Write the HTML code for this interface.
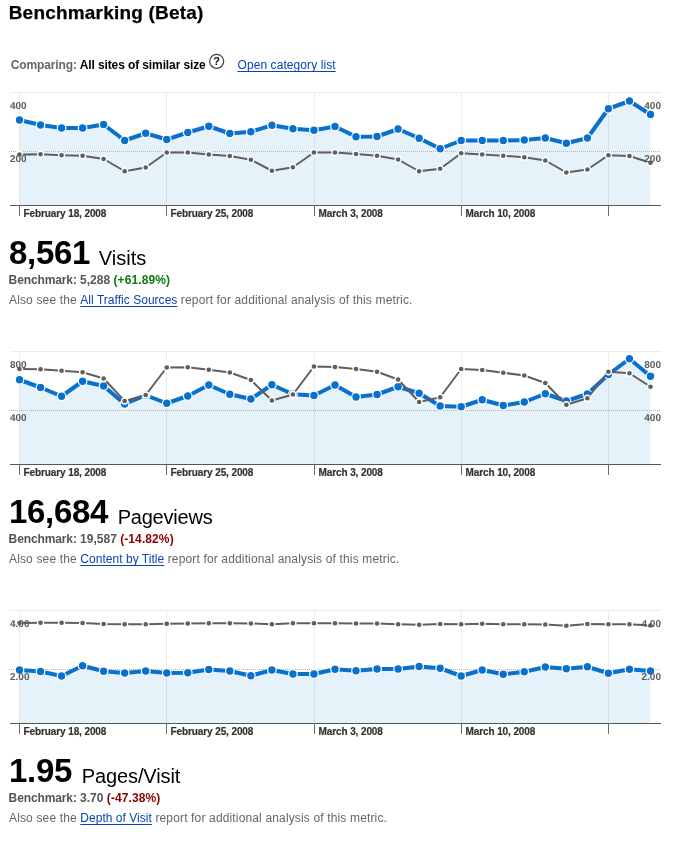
<!DOCTYPE html>
<html><head><meta charset="utf-8"><title>Benchmarking (Beta)</title>
<style>
html,body{margin:0;padding:0;background:#fff;}
body{width:676px;height:843px;position:relative;overflow:hidden;font-family:"Liberation Sans",sans-serif;color:#000;}
.abs{position:absolute;white-space:nowrap;line-height:1;}
h1{margin:0;font-size:19px;font-weight:bold;letter-spacing:0.2px;-webkit-text-stroke:0.25px #000;}
.g{color:#666;}
a{color:#0a44b0;text-decoration:underline;text-underline-offset:1.5px;text-decoration-thickness:1px;}
.big{font-size:33px;font-weight:bold;letter-spacing:-0.3px;}
.met{font-size:20px;}
.bm{font-size:12px;font-weight:bold;color:#555;}
.also{font-size:12px;color:#666;letter-spacing:0.15px;}
.also a{letter-spacing:0.03px;}
.bk{letter-spacing:-0.12px;}
.up{color:#0a7d0a;letter-spacing:0.1px;}
.dn{color:#8b0000;letter-spacing:0.1px;}
svg{position:absolute;left:0;top:0;}
.ax{font:bold 10px "Liberation Sans",sans-serif;fill:#5a5a5a;text-rendering:geometricPrecision;}
.dt{font:bold 10px "Liberation Sans",sans-serif;fill:#333;stroke:#333;stroke-width:0.2px;letter-spacing:-0.1px;}
</style></head><body>
<h1 class="abs" style="left:8.7px;top:3px;">Benchmarking (Beta)</h1>
<div class="abs" style="left:10.7px;top:59px;font-size:12px;font-weight:bold;letter-spacing:-0.11px;"><span class="g">Comparing:</span> All sites of similar size</div>
<div class="abs" style="left:237.5px;top:59px;font-size:12px;letter-spacing:0.08px;"><a>Open category list</a></div>
<svg width="676" height="843" viewBox="0 0 676 843">
<circle cx="216.7" cy="61.3" r="7" fill="#fff" stroke="#444" stroke-width="1.3"/>
<text x="216.7" y="65.3" text-anchor="middle" style="font:bold 11px 'Liberation Sans',sans-serif;fill:#111">?</text>
<rect x="10" y="92" width="651" height="1" fill="#ebebeb"/>
<polygon points="19.50,205 19.50,120.00 40.53,125.00 61.57,128.00 82.60,128.00 103.63,124.50 124.67,140.50 145.70,133.25 166.73,139.50 187.76,132.50 208.80,126.25 229.83,133.50 250.86,131.75 271.90,125.25 292.93,128.75 313.96,130.25 335.00,126.50 356.03,136.75 377.06,136.50 398.09,129.00 419.13,138.25 440.16,148.75 461.19,140.50 482.23,140.50 503.26,140.50 524.29,140.00 545.33,138.00 566.36,143.25 587.39,138.00 608.42,108.75 629.46,101.00 650.49,114.50 650.49,205" fill="#e6f2fa"/>
<rect x="19" y="93" width="1" height="112" fill="#000" fill-opacity="0.075"/>
<rect x="166" y="93" width="1" height="112" fill="#000" fill-opacity="0.075"/>
<rect x="314" y="93" width="1" height="112" fill="#000" fill-opacity="0.075"/>
<rect x="461" y="93" width="1" height="112" fill="#000" fill-opacity="0.075"/>
<rect x="608" y="93" width="1" height="112" fill="#000" fill-opacity="0.075"/>
<line x1="9" y1="151.5" x2="661" y2="151.5" stroke="#b4b4b4" stroke-width="1" stroke-dasharray="1 1"/>
<rect x="10" y="205" width="651" height="1" fill="#555"/>
<rect x="19" y="205" width="1" height="11" fill="#6a6a6a"/>
<rect x="166" y="205" width="1" height="11" fill="#6a6a6a"/>
<rect x="314" y="205" width="1" height="11" fill="#6a6a6a"/>
<rect x="461" y="205" width="1" height="11" fill="#6a6a6a"/>
<rect x="608" y="205" width="1" height="11" fill="#6a6a6a"/>
<polyline points="19.50,120.00 40.53,125.00 61.57,128.00 82.60,128.00 103.63,124.50 124.67,140.50 145.70,133.25 166.73,139.50 187.76,132.50 208.80,126.25 229.83,133.50 250.86,131.75 271.90,125.25 292.93,128.75 313.96,130.25 335.00,126.50 356.03,136.75 377.06,136.50 398.09,129.00 419.13,138.25 440.16,148.75 461.19,140.50 482.23,140.50 503.26,140.50 524.29,140.00 545.33,138.00 566.36,143.25 587.39,138.00 608.42,108.75 629.46,101.00 650.49,114.50" fill="none" stroke="#0a70cd" stroke-width="4" stroke-linejoin="round"/>
<circle cx="19.50" cy="120.00" r="4.3" fill="#0a70cd" stroke="#fff" stroke-width="1.2"/>
<circle cx="40.53" cy="125.00" r="4.3" fill="#0a70cd" stroke="#fff" stroke-width="1.2"/>
<circle cx="61.57" cy="128.00" r="4.3" fill="#0a70cd" stroke="#fff" stroke-width="1.2"/>
<circle cx="82.60" cy="128.00" r="4.3" fill="#0a70cd" stroke="#fff" stroke-width="1.2"/>
<circle cx="103.63" cy="124.50" r="4.3" fill="#0a70cd" stroke="#fff" stroke-width="1.2"/>
<circle cx="124.67" cy="140.50" r="4.3" fill="#0a70cd" stroke="#fff" stroke-width="1.2"/>
<circle cx="145.70" cy="133.25" r="4.3" fill="#0a70cd" stroke="#fff" stroke-width="1.2"/>
<circle cx="166.73" cy="139.50" r="4.3" fill="#0a70cd" stroke="#fff" stroke-width="1.2"/>
<circle cx="187.76" cy="132.50" r="4.3" fill="#0a70cd" stroke="#fff" stroke-width="1.2"/>
<circle cx="208.80" cy="126.25" r="4.3" fill="#0a70cd" stroke="#fff" stroke-width="1.2"/>
<circle cx="229.83" cy="133.50" r="4.3" fill="#0a70cd" stroke="#fff" stroke-width="1.2"/>
<circle cx="250.86" cy="131.75" r="4.3" fill="#0a70cd" stroke="#fff" stroke-width="1.2"/>
<circle cx="271.90" cy="125.25" r="4.3" fill="#0a70cd" stroke="#fff" stroke-width="1.2"/>
<circle cx="292.93" cy="128.75" r="4.3" fill="#0a70cd" stroke="#fff" stroke-width="1.2"/>
<circle cx="313.96" cy="130.25" r="4.3" fill="#0a70cd" stroke="#fff" stroke-width="1.2"/>
<circle cx="335.00" cy="126.50" r="4.3" fill="#0a70cd" stroke="#fff" stroke-width="1.2"/>
<circle cx="356.03" cy="136.75" r="4.3" fill="#0a70cd" stroke="#fff" stroke-width="1.2"/>
<circle cx="377.06" cy="136.50" r="4.3" fill="#0a70cd" stroke="#fff" stroke-width="1.2"/>
<circle cx="398.09" cy="129.00" r="4.3" fill="#0a70cd" stroke="#fff" stroke-width="1.2"/>
<circle cx="419.13" cy="138.25" r="4.3" fill="#0a70cd" stroke="#fff" stroke-width="1.2"/>
<circle cx="440.16" cy="148.75" r="4.3" fill="#0a70cd" stroke="#fff" stroke-width="1.2"/>
<circle cx="461.19" cy="140.50" r="4.3" fill="#0a70cd" stroke="#fff" stroke-width="1.2"/>
<circle cx="482.23" cy="140.50" r="4.3" fill="#0a70cd" stroke="#fff" stroke-width="1.2"/>
<circle cx="503.26" cy="140.50" r="4.3" fill="#0a70cd" stroke="#fff" stroke-width="1.2"/>
<circle cx="524.29" cy="140.00" r="4.3" fill="#0a70cd" stroke="#fff" stroke-width="1.2"/>
<circle cx="545.33" cy="138.00" r="4.3" fill="#0a70cd" stroke="#fff" stroke-width="1.2"/>
<circle cx="566.36" cy="143.25" r="4.3" fill="#0a70cd" stroke="#fff" stroke-width="1.2"/>
<circle cx="587.39" cy="138.00" r="4.3" fill="#0a70cd" stroke="#fff" stroke-width="1.2"/>
<circle cx="608.42" cy="108.75" r="4.3" fill="#0a70cd" stroke="#fff" stroke-width="1.2"/>
<circle cx="629.46" cy="101.00" r="4.3" fill="#0a70cd" stroke="#fff" stroke-width="1.2"/>
<circle cx="650.49" cy="114.50" r="4.3" fill="#0a70cd" stroke="#fff" stroke-width="1.2"/>
<polyline points="19.50,154.50 40.53,154.25 61.57,155.25 82.60,155.75 103.63,159.00 124.67,171.25 145.70,167.50 166.73,152.50 187.76,152.50 208.80,154.50 229.83,156.00 250.86,159.75 271.90,170.75 292.93,167.25 313.96,152.50 335.00,152.50 356.03,154.00 377.06,155.75 398.09,159.50 419.13,171.25 440.16,168.75 461.19,153.25 482.23,154.50 503.26,155.75 524.29,157.25 545.33,160.50 566.36,172.50 587.39,169.50 608.42,155.25 629.46,156.00 650.49,162.75" fill="none" stroke="#5f5f5f" stroke-width="2.0" stroke-linejoin="round"/>
<circle cx="19.50" cy="154.50" r="3.0" fill="#5f5f5f" stroke="#fff" stroke-width="1.3"/>
<circle cx="40.53" cy="154.25" r="3.0" fill="#5f5f5f" stroke="#fff" stroke-width="1.3"/>
<circle cx="61.57" cy="155.25" r="3.0" fill="#5f5f5f" stroke="#fff" stroke-width="1.3"/>
<circle cx="82.60" cy="155.75" r="3.0" fill="#5f5f5f" stroke="#fff" stroke-width="1.3"/>
<circle cx="103.63" cy="159.00" r="3.0" fill="#5f5f5f" stroke="#fff" stroke-width="1.3"/>
<circle cx="124.67" cy="171.25" r="3.0" fill="#5f5f5f" stroke="#fff" stroke-width="1.3"/>
<circle cx="145.70" cy="167.50" r="3.0" fill="#5f5f5f" stroke="#fff" stroke-width="1.3"/>
<circle cx="166.73" cy="152.50" r="3.0" fill="#5f5f5f" stroke="#fff" stroke-width="1.3"/>
<circle cx="187.76" cy="152.50" r="3.0" fill="#5f5f5f" stroke="#fff" stroke-width="1.3"/>
<circle cx="208.80" cy="154.50" r="3.0" fill="#5f5f5f" stroke="#fff" stroke-width="1.3"/>
<circle cx="229.83" cy="156.00" r="3.0" fill="#5f5f5f" stroke="#fff" stroke-width="1.3"/>
<circle cx="250.86" cy="159.75" r="3.0" fill="#5f5f5f" stroke="#fff" stroke-width="1.3"/>
<circle cx="271.90" cy="170.75" r="3.0" fill="#5f5f5f" stroke="#fff" stroke-width="1.3"/>
<circle cx="292.93" cy="167.25" r="3.0" fill="#5f5f5f" stroke="#fff" stroke-width="1.3"/>
<circle cx="313.96" cy="152.50" r="3.0" fill="#5f5f5f" stroke="#fff" stroke-width="1.3"/>
<circle cx="335.00" cy="152.50" r="3.0" fill="#5f5f5f" stroke="#fff" stroke-width="1.3"/>
<circle cx="356.03" cy="154.00" r="3.0" fill="#5f5f5f" stroke="#fff" stroke-width="1.3"/>
<circle cx="377.06" cy="155.75" r="3.0" fill="#5f5f5f" stroke="#fff" stroke-width="1.3"/>
<circle cx="398.09" cy="159.50" r="3.0" fill="#5f5f5f" stroke="#fff" stroke-width="1.3"/>
<circle cx="419.13" cy="171.25" r="3.0" fill="#5f5f5f" stroke="#fff" stroke-width="1.3"/>
<circle cx="440.16" cy="168.75" r="3.0" fill="#5f5f5f" stroke="#fff" stroke-width="1.3"/>
<circle cx="461.19" cy="153.25" r="3.0" fill="#5f5f5f" stroke="#fff" stroke-width="1.3"/>
<circle cx="482.23" cy="154.50" r="3.0" fill="#5f5f5f" stroke="#fff" stroke-width="1.3"/>
<circle cx="503.26" cy="155.75" r="3.0" fill="#5f5f5f" stroke="#fff" stroke-width="1.3"/>
<circle cx="524.29" cy="157.25" r="3.0" fill="#5f5f5f" stroke="#fff" stroke-width="1.3"/>
<circle cx="545.33" cy="160.50" r="3.0" fill="#5f5f5f" stroke="#fff" stroke-width="1.3"/>
<circle cx="566.36" cy="172.50" r="3.0" fill="#5f5f5f" stroke="#fff" stroke-width="1.3"/>
<circle cx="587.39" cy="169.50" r="3.0" fill="#5f5f5f" stroke="#fff" stroke-width="1.3"/>
<circle cx="608.42" cy="155.25" r="3.0" fill="#5f5f5f" stroke="#fff" stroke-width="1.3"/>
<circle cx="629.46" cy="156.00" r="3.0" fill="#5f5f5f" stroke="#fff" stroke-width="1.3"/>
<circle cx="650.49" cy="162.75" r="3.0" fill="#5f5f5f" stroke="#fff" stroke-width="1.3"/>
<text x="10" y="109" class="ax">400</text>
<text x="661" y="109" class="ax" text-anchor="end">400</text>
<text x="10" y="162" class="ax">200</text>
<text x="661" y="162" class="ax" text-anchor="end">200</text>
<text x="23.5" y="217" class="dt">February 18, 2008</text>
<text x="170.5" y="217" class="dt">February 25, 2008</text>
<text x="318.5" y="217" class="dt">March 3, 2008</text>
<text x="465.5" y="217" class="dt">March 10, 2008</text>
<rect x="10" y="351" width="651" height="1" fill="#ebebeb"/>
<polygon points="19.50,464 19.50,379.75 40.53,387.50 61.57,396.25 82.60,381.25 103.63,386.00 124.67,404.00 145.70,395.25 166.73,403.25 187.76,396.00 208.80,385.00 229.83,394.25 250.86,399.00 271.90,384.75 292.93,394.25 313.96,395.50 335.00,385.00 356.03,397.00 377.06,394.50 398.09,386.75 419.13,393.25 440.16,406.00 461.19,406.75 482.23,399.75 503.26,405.50 524.29,402.00 545.33,393.75 566.36,401.00 587.39,394.00 608.42,374.50 629.46,358.75 650.49,376.25 650.49,464" fill="#e6f2fa"/>
<rect x="19" y="352" width="1" height="112" fill="#000" fill-opacity="0.075"/>
<rect x="166" y="352" width="1" height="112" fill="#000" fill-opacity="0.075"/>
<rect x="314" y="352" width="1" height="112" fill="#000" fill-opacity="0.075"/>
<rect x="461" y="352" width="1" height="112" fill="#000" fill-opacity="0.075"/>
<rect x="608" y="352" width="1" height="112" fill="#000" fill-opacity="0.075"/>
<line x1="9" y1="410.5" x2="661" y2="410.5" stroke="#b4b4b4" stroke-width="1" stroke-dasharray="1 1"/>
<rect x="10" y="464" width="651" height="1" fill="#555"/>
<rect x="19" y="464" width="1" height="11" fill="#6a6a6a"/>
<rect x="166" y="464" width="1" height="11" fill="#6a6a6a"/>
<rect x="314" y="464" width="1" height="11" fill="#6a6a6a"/>
<rect x="461" y="464" width="1" height="11" fill="#6a6a6a"/>
<rect x="608" y="464" width="1" height="11" fill="#6a6a6a"/>
<polyline points="19.50,379.75 40.53,387.50 61.57,396.25 82.60,381.25 103.63,386.00 124.67,404.00 145.70,395.25 166.73,403.25 187.76,396.00 208.80,385.00 229.83,394.25 250.86,399.00 271.90,384.75 292.93,394.25 313.96,395.50 335.00,385.00 356.03,397.00 377.06,394.50 398.09,386.75 419.13,393.25 440.16,406.00 461.19,406.75 482.23,399.75 503.26,405.50 524.29,402.00 545.33,393.75 566.36,401.00 587.39,394.00 608.42,374.50 629.46,358.75 650.49,376.25" fill="none" stroke="#0a70cd" stroke-width="4" stroke-linejoin="round"/>
<circle cx="19.50" cy="379.75" r="4.3" fill="#0a70cd" stroke="#fff" stroke-width="1.2"/>
<circle cx="40.53" cy="387.50" r="4.3" fill="#0a70cd" stroke="#fff" stroke-width="1.2"/>
<circle cx="61.57" cy="396.25" r="4.3" fill="#0a70cd" stroke="#fff" stroke-width="1.2"/>
<circle cx="82.60" cy="381.25" r="4.3" fill="#0a70cd" stroke="#fff" stroke-width="1.2"/>
<circle cx="103.63" cy="386.00" r="4.3" fill="#0a70cd" stroke="#fff" stroke-width="1.2"/>
<circle cx="124.67" cy="404.00" r="4.3" fill="#0a70cd" stroke="#fff" stroke-width="1.2"/>
<circle cx="145.70" cy="395.25" r="4.3" fill="#0a70cd" stroke="#fff" stroke-width="1.2"/>
<circle cx="166.73" cy="403.25" r="4.3" fill="#0a70cd" stroke="#fff" stroke-width="1.2"/>
<circle cx="187.76" cy="396.00" r="4.3" fill="#0a70cd" stroke="#fff" stroke-width="1.2"/>
<circle cx="208.80" cy="385.00" r="4.3" fill="#0a70cd" stroke="#fff" stroke-width="1.2"/>
<circle cx="229.83" cy="394.25" r="4.3" fill="#0a70cd" stroke="#fff" stroke-width="1.2"/>
<circle cx="250.86" cy="399.00" r="4.3" fill="#0a70cd" stroke="#fff" stroke-width="1.2"/>
<circle cx="271.90" cy="384.75" r="4.3" fill="#0a70cd" stroke="#fff" stroke-width="1.2"/>
<circle cx="292.93" cy="394.25" r="4.3" fill="#0a70cd" stroke="#fff" stroke-width="1.2"/>
<circle cx="313.96" cy="395.50" r="4.3" fill="#0a70cd" stroke="#fff" stroke-width="1.2"/>
<circle cx="335.00" cy="385.00" r="4.3" fill="#0a70cd" stroke="#fff" stroke-width="1.2"/>
<circle cx="356.03" cy="397.00" r="4.3" fill="#0a70cd" stroke="#fff" stroke-width="1.2"/>
<circle cx="377.06" cy="394.50" r="4.3" fill="#0a70cd" stroke="#fff" stroke-width="1.2"/>
<circle cx="398.09" cy="386.75" r="4.3" fill="#0a70cd" stroke="#fff" stroke-width="1.2"/>
<circle cx="419.13" cy="393.25" r="4.3" fill="#0a70cd" stroke="#fff" stroke-width="1.2"/>
<circle cx="440.16" cy="406.00" r="4.3" fill="#0a70cd" stroke="#fff" stroke-width="1.2"/>
<circle cx="461.19" cy="406.75" r="4.3" fill="#0a70cd" stroke="#fff" stroke-width="1.2"/>
<circle cx="482.23" cy="399.75" r="4.3" fill="#0a70cd" stroke="#fff" stroke-width="1.2"/>
<circle cx="503.26" cy="405.50" r="4.3" fill="#0a70cd" stroke="#fff" stroke-width="1.2"/>
<circle cx="524.29" cy="402.00" r="4.3" fill="#0a70cd" stroke="#fff" stroke-width="1.2"/>
<circle cx="545.33" cy="393.75" r="4.3" fill="#0a70cd" stroke="#fff" stroke-width="1.2"/>
<circle cx="566.36" cy="401.00" r="4.3" fill="#0a70cd" stroke="#fff" stroke-width="1.2"/>
<circle cx="587.39" cy="394.00" r="4.3" fill="#0a70cd" stroke="#fff" stroke-width="1.2"/>
<circle cx="608.42" cy="374.50" r="4.3" fill="#0a70cd" stroke="#fff" stroke-width="1.2"/>
<circle cx="629.46" cy="358.75" r="4.3" fill="#0a70cd" stroke="#fff" stroke-width="1.2"/>
<circle cx="650.49" cy="376.25" r="4.3" fill="#0a70cd" stroke="#fff" stroke-width="1.2"/>
<polyline points="19.50,369.00 40.53,369.25 61.57,370.75 82.60,372.25 103.63,378.50 124.67,401.00 145.70,395.00 166.73,367.50 187.76,367.25 208.80,369.75 229.83,372.50 250.86,380.00 271.90,400.50 292.93,394.50 313.96,366.50 335.00,367.00 356.03,369.00 377.06,371.75 398.09,379.50 419.13,402.00 440.16,397.25 461.19,369.00 482.23,370.00 503.26,372.75 524.29,375.50 545.33,383.00 566.36,404.75 587.39,398.25 608.42,371.75 629.46,373.25 650.49,386.75" fill="none" stroke="#5f5f5f" stroke-width="2.0" stroke-linejoin="round"/>
<circle cx="19.50" cy="369.00" r="3.0" fill="#5f5f5f" stroke="#fff" stroke-width="1.3"/>
<circle cx="40.53" cy="369.25" r="3.0" fill="#5f5f5f" stroke="#fff" stroke-width="1.3"/>
<circle cx="61.57" cy="370.75" r="3.0" fill="#5f5f5f" stroke="#fff" stroke-width="1.3"/>
<circle cx="82.60" cy="372.25" r="3.0" fill="#5f5f5f" stroke="#fff" stroke-width="1.3"/>
<circle cx="103.63" cy="378.50" r="3.0" fill="#5f5f5f" stroke="#fff" stroke-width="1.3"/>
<circle cx="124.67" cy="401.00" r="3.0" fill="#5f5f5f" stroke="#fff" stroke-width="1.3"/>
<circle cx="145.70" cy="395.00" r="3.0" fill="#5f5f5f" stroke="#fff" stroke-width="1.3"/>
<circle cx="166.73" cy="367.50" r="3.0" fill="#5f5f5f" stroke="#fff" stroke-width="1.3"/>
<circle cx="187.76" cy="367.25" r="3.0" fill="#5f5f5f" stroke="#fff" stroke-width="1.3"/>
<circle cx="208.80" cy="369.75" r="3.0" fill="#5f5f5f" stroke="#fff" stroke-width="1.3"/>
<circle cx="229.83" cy="372.50" r="3.0" fill="#5f5f5f" stroke="#fff" stroke-width="1.3"/>
<circle cx="250.86" cy="380.00" r="3.0" fill="#5f5f5f" stroke="#fff" stroke-width="1.3"/>
<circle cx="271.90" cy="400.50" r="3.0" fill="#5f5f5f" stroke="#fff" stroke-width="1.3"/>
<circle cx="292.93" cy="394.50" r="3.0" fill="#5f5f5f" stroke="#fff" stroke-width="1.3"/>
<circle cx="313.96" cy="366.50" r="3.0" fill="#5f5f5f" stroke="#fff" stroke-width="1.3"/>
<circle cx="335.00" cy="367.00" r="3.0" fill="#5f5f5f" stroke="#fff" stroke-width="1.3"/>
<circle cx="356.03" cy="369.00" r="3.0" fill="#5f5f5f" stroke="#fff" stroke-width="1.3"/>
<circle cx="377.06" cy="371.75" r="3.0" fill="#5f5f5f" stroke="#fff" stroke-width="1.3"/>
<circle cx="398.09" cy="379.50" r="3.0" fill="#5f5f5f" stroke="#fff" stroke-width="1.3"/>
<circle cx="419.13" cy="402.00" r="3.0" fill="#5f5f5f" stroke="#fff" stroke-width="1.3"/>
<circle cx="440.16" cy="397.25" r="3.0" fill="#5f5f5f" stroke="#fff" stroke-width="1.3"/>
<circle cx="461.19" cy="369.00" r="3.0" fill="#5f5f5f" stroke="#fff" stroke-width="1.3"/>
<circle cx="482.23" cy="370.00" r="3.0" fill="#5f5f5f" stroke="#fff" stroke-width="1.3"/>
<circle cx="503.26" cy="372.75" r="3.0" fill="#5f5f5f" stroke="#fff" stroke-width="1.3"/>
<circle cx="524.29" cy="375.50" r="3.0" fill="#5f5f5f" stroke="#fff" stroke-width="1.3"/>
<circle cx="545.33" cy="383.00" r="3.0" fill="#5f5f5f" stroke="#fff" stroke-width="1.3"/>
<circle cx="566.36" cy="404.75" r="3.0" fill="#5f5f5f" stroke="#fff" stroke-width="1.3"/>
<circle cx="587.39" cy="398.25" r="3.0" fill="#5f5f5f" stroke="#fff" stroke-width="1.3"/>
<circle cx="608.42" cy="371.75" r="3.0" fill="#5f5f5f" stroke="#fff" stroke-width="1.3"/>
<circle cx="629.46" cy="373.25" r="3.0" fill="#5f5f5f" stroke="#fff" stroke-width="1.3"/>
<circle cx="650.49" cy="386.75" r="3.0" fill="#5f5f5f" stroke="#fff" stroke-width="1.3"/>
<text x="10" y="368" class="ax">800</text>
<text x="661" y="368" class="ax" text-anchor="end">800</text>
<text x="10" y="421" class="ax">400</text>
<text x="661" y="421" class="ax" text-anchor="end">400</text>
<text x="23.5" y="476" class="dt">February 18, 2008</text>
<text x="170.5" y="476" class="dt">February 25, 2008</text>
<text x="318.5" y="476" class="dt">March 3, 2008</text>
<text x="465.5" y="476" class="dt">March 10, 2008</text>
<rect x="10" y="610" width="651" height="1" fill="#ebebeb"/>
<polygon points="19.50,723 19.50,670.00 40.53,671.50 61.57,676.00 82.60,665.75 103.63,671.25 124.67,673.00 145.70,671.00 166.73,673.00 187.76,672.75 208.80,669.50 229.83,671.00 250.86,675.75 271.90,670.00 292.93,674.00 313.96,674.00 335.00,669.25 356.03,670.75 377.06,669.00 398.09,669.00 419.13,666.50 440.16,668.25 461.19,676.00 482.23,670.00 503.26,674.25 524.29,671.75 545.33,667.00 566.36,668.75 587.39,666.75 608.42,673.25 629.46,669.25 650.49,671.00 650.49,723" fill="#e6f2fa"/>
<rect x="19" y="611" width="1" height="112" fill="#000" fill-opacity="0.075"/>
<rect x="166" y="611" width="1" height="112" fill="#000" fill-opacity="0.075"/>
<rect x="314" y="611" width="1" height="112" fill="#000" fill-opacity="0.075"/>
<rect x="461" y="611" width="1" height="112" fill="#000" fill-opacity="0.075"/>
<rect x="608" y="611" width="1" height="112" fill="#000" fill-opacity="0.075"/>
<line x1="9" y1="669.5" x2="661" y2="669.5" stroke="#b4b4b4" stroke-width="1" stroke-dasharray="1 1"/>
<rect x="10" y="723" width="651" height="1" fill="#555"/>
<rect x="19" y="723" width="1" height="11" fill="#6a6a6a"/>
<rect x="166" y="723" width="1" height="11" fill="#6a6a6a"/>
<rect x="314" y="723" width="1" height="11" fill="#6a6a6a"/>
<rect x="461" y="723" width="1" height="11" fill="#6a6a6a"/>
<rect x="608" y="723" width="1" height="11" fill="#6a6a6a"/>
<polyline points="19.50,670.00 40.53,671.50 61.57,676.00 82.60,665.75 103.63,671.25 124.67,673.00 145.70,671.00 166.73,673.00 187.76,672.75 208.80,669.50 229.83,671.00 250.86,675.75 271.90,670.00 292.93,674.00 313.96,674.00 335.00,669.25 356.03,670.75 377.06,669.00 398.09,669.00 419.13,666.50 440.16,668.25 461.19,676.00 482.23,670.00 503.26,674.25 524.29,671.75 545.33,667.00 566.36,668.75 587.39,666.75 608.42,673.25 629.46,669.25 650.49,671.00" fill="none" stroke="#0a70cd" stroke-width="4" stroke-linejoin="round"/>
<circle cx="19.50" cy="670.00" r="4.3" fill="#0a70cd" stroke="#fff" stroke-width="1.2"/>
<circle cx="40.53" cy="671.50" r="4.3" fill="#0a70cd" stroke="#fff" stroke-width="1.2"/>
<circle cx="61.57" cy="676.00" r="4.3" fill="#0a70cd" stroke="#fff" stroke-width="1.2"/>
<circle cx="82.60" cy="665.75" r="4.3" fill="#0a70cd" stroke="#fff" stroke-width="1.2"/>
<circle cx="103.63" cy="671.25" r="4.3" fill="#0a70cd" stroke="#fff" stroke-width="1.2"/>
<circle cx="124.67" cy="673.00" r="4.3" fill="#0a70cd" stroke="#fff" stroke-width="1.2"/>
<circle cx="145.70" cy="671.00" r="4.3" fill="#0a70cd" stroke="#fff" stroke-width="1.2"/>
<circle cx="166.73" cy="673.00" r="4.3" fill="#0a70cd" stroke="#fff" stroke-width="1.2"/>
<circle cx="187.76" cy="672.75" r="4.3" fill="#0a70cd" stroke="#fff" stroke-width="1.2"/>
<circle cx="208.80" cy="669.50" r="4.3" fill="#0a70cd" stroke="#fff" stroke-width="1.2"/>
<circle cx="229.83" cy="671.00" r="4.3" fill="#0a70cd" stroke="#fff" stroke-width="1.2"/>
<circle cx="250.86" cy="675.75" r="4.3" fill="#0a70cd" stroke="#fff" stroke-width="1.2"/>
<circle cx="271.90" cy="670.00" r="4.3" fill="#0a70cd" stroke="#fff" stroke-width="1.2"/>
<circle cx="292.93" cy="674.00" r="4.3" fill="#0a70cd" stroke="#fff" stroke-width="1.2"/>
<circle cx="313.96" cy="674.00" r="4.3" fill="#0a70cd" stroke="#fff" stroke-width="1.2"/>
<circle cx="335.00" cy="669.25" r="4.3" fill="#0a70cd" stroke="#fff" stroke-width="1.2"/>
<circle cx="356.03" cy="670.75" r="4.3" fill="#0a70cd" stroke="#fff" stroke-width="1.2"/>
<circle cx="377.06" cy="669.00" r="4.3" fill="#0a70cd" stroke="#fff" stroke-width="1.2"/>
<circle cx="398.09" cy="669.00" r="4.3" fill="#0a70cd" stroke="#fff" stroke-width="1.2"/>
<circle cx="419.13" cy="666.50" r="4.3" fill="#0a70cd" stroke="#fff" stroke-width="1.2"/>
<circle cx="440.16" cy="668.25" r="4.3" fill="#0a70cd" stroke="#fff" stroke-width="1.2"/>
<circle cx="461.19" cy="676.00" r="4.3" fill="#0a70cd" stroke="#fff" stroke-width="1.2"/>
<circle cx="482.23" cy="670.00" r="4.3" fill="#0a70cd" stroke="#fff" stroke-width="1.2"/>
<circle cx="503.26" cy="674.25" r="4.3" fill="#0a70cd" stroke="#fff" stroke-width="1.2"/>
<circle cx="524.29" cy="671.75" r="4.3" fill="#0a70cd" stroke="#fff" stroke-width="1.2"/>
<circle cx="545.33" cy="667.00" r="4.3" fill="#0a70cd" stroke="#fff" stroke-width="1.2"/>
<circle cx="566.36" cy="668.75" r="4.3" fill="#0a70cd" stroke="#fff" stroke-width="1.2"/>
<circle cx="587.39" cy="666.75" r="4.3" fill="#0a70cd" stroke="#fff" stroke-width="1.2"/>
<circle cx="608.42" cy="673.25" r="4.3" fill="#0a70cd" stroke="#fff" stroke-width="1.2"/>
<circle cx="629.46" cy="669.25" r="4.3" fill="#0a70cd" stroke="#fff" stroke-width="1.2"/>
<circle cx="650.49" cy="671.00" r="4.3" fill="#0a70cd" stroke="#fff" stroke-width="1.2"/>
<polyline points="19.50,623.00 40.53,622.75 61.57,622.75 82.60,623.00 103.63,624.00 124.67,624.25 145.70,624.25 166.73,623.75 187.76,623.50 208.80,623.25 229.83,623.25 250.86,623.50 271.90,624.25 292.93,623.25 313.96,623.25 335.00,623.25 356.03,623.50 377.06,623.50 398.09,624.25 419.13,624.75 440.16,624.00 461.19,624.25 482.23,623.75 503.26,624.25 524.29,624.25 545.33,624.50 566.36,625.75 587.39,624.00 608.42,624.25 629.46,624.25 650.49,625.50" fill="none" stroke="#5f5f5f" stroke-width="2.0" stroke-linejoin="round"/>
<circle cx="19.50" cy="623.00" r="3.0" fill="#5f5f5f" stroke="#fff" stroke-width="1.3"/>
<circle cx="40.53" cy="622.75" r="3.0" fill="#5f5f5f" stroke="#fff" stroke-width="1.3"/>
<circle cx="61.57" cy="622.75" r="3.0" fill="#5f5f5f" stroke="#fff" stroke-width="1.3"/>
<circle cx="82.60" cy="623.00" r="3.0" fill="#5f5f5f" stroke="#fff" stroke-width="1.3"/>
<circle cx="103.63" cy="624.00" r="3.0" fill="#5f5f5f" stroke="#fff" stroke-width="1.3"/>
<circle cx="124.67" cy="624.25" r="3.0" fill="#5f5f5f" stroke="#fff" stroke-width="1.3"/>
<circle cx="145.70" cy="624.25" r="3.0" fill="#5f5f5f" stroke="#fff" stroke-width="1.3"/>
<circle cx="166.73" cy="623.75" r="3.0" fill="#5f5f5f" stroke="#fff" stroke-width="1.3"/>
<circle cx="187.76" cy="623.50" r="3.0" fill="#5f5f5f" stroke="#fff" stroke-width="1.3"/>
<circle cx="208.80" cy="623.25" r="3.0" fill="#5f5f5f" stroke="#fff" stroke-width="1.3"/>
<circle cx="229.83" cy="623.25" r="3.0" fill="#5f5f5f" stroke="#fff" stroke-width="1.3"/>
<circle cx="250.86" cy="623.50" r="3.0" fill="#5f5f5f" stroke="#fff" stroke-width="1.3"/>
<circle cx="271.90" cy="624.25" r="3.0" fill="#5f5f5f" stroke="#fff" stroke-width="1.3"/>
<circle cx="292.93" cy="623.25" r="3.0" fill="#5f5f5f" stroke="#fff" stroke-width="1.3"/>
<circle cx="313.96" cy="623.25" r="3.0" fill="#5f5f5f" stroke="#fff" stroke-width="1.3"/>
<circle cx="335.00" cy="623.25" r="3.0" fill="#5f5f5f" stroke="#fff" stroke-width="1.3"/>
<circle cx="356.03" cy="623.50" r="3.0" fill="#5f5f5f" stroke="#fff" stroke-width="1.3"/>
<circle cx="377.06" cy="623.50" r="3.0" fill="#5f5f5f" stroke="#fff" stroke-width="1.3"/>
<circle cx="398.09" cy="624.25" r="3.0" fill="#5f5f5f" stroke="#fff" stroke-width="1.3"/>
<circle cx="419.13" cy="624.75" r="3.0" fill="#5f5f5f" stroke="#fff" stroke-width="1.3"/>
<circle cx="440.16" cy="624.00" r="3.0" fill="#5f5f5f" stroke="#fff" stroke-width="1.3"/>
<circle cx="461.19" cy="624.25" r="3.0" fill="#5f5f5f" stroke="#fff" stroke-width="1.3"/>
<circle cx="482.23" cy="623.75" r="3.0" fill="#5f5f5f" stroke="#fff" stroke-width="1.3"/>
<circle cx="503.26" cy="624.25" r="3.0" fill="#5f5f5f" stroke="#fff" stroke-width="1.3"/>
<circle cx="524.29" cy="624.25" r="3.0" fill="#5f5f5f" stroke="#fff" stroke-width="1.3"/>
<circle cx="545.33" cy="624.50" r="3.0" fill="#5f5f5f" stroke="#fff" stroke-width="1.3"/>
<circle cx="566.36" cy="625.75" r="3.0" fill="#5f5f5f" stroke="#fff" stroke-width="1.3"/>
<circle cx="587.39" cy="624.00" r="3.0" fill="#5f5f5f" stroke="#fff" stroke-width="1.3"/>
<circle cx="608.42" cy="624.25" r="3.0" fill="#5f5f5f" stroke="#fff" stroke-width="1.3"/>
<circle cx="629.46" cy="624.25" r="3.0" fill="#5f5f5f" stroke="#fff" stroke-width="1.3"/>
<circle cx="650.49" cy="625.50" r="3.0" fill="#5f5f5f" stroke="#fff" stroke-width="1.3"/>
<text x="10" y="627" class="ax">4.00</text>
<text x="661" y="627" class="ax" text-anchor="end">4.00</text>
<text x="10" y="680" class="ax">2.00</text>
<text x="661" y="680" class="ax" text-anchor="end">2.00</text>
<text x="23.5" y="735" class="dt">February 18, 2008</text>
<text x="170.5" y="735" class="dt">February 25, 2008</text>
<text x="318.5" y="735" class="dt">March 3, 2008</text>
<text x="465.5" y="735" class="dt">March 10, 2008</text>
</svg>
<div class="abs big" style="left:9px;top:236px;">8,561</div>
<div class="abs met" style="left:98.8px;top:248px;">Visits</div>
<div class="abs bm" style="left:8.6px;top:274px;"><span class="bk">Benchmark:</span> 5,288 <span class="up">(+61.89%)</span></div>
<div class="abs also" style="left:9px;top:294px;">Also see the <a>All Traffic Sources</a> report for additional analysis of this metric.</div>

<div class="abs big" style="left:9px;top:495px;">16,684</div>
<div class="abs met" style="left:117.7px;top:507px;letter-spacing:-0.22px;">Pageviews</div>
<div class="abs bm" style="left:8.6px;top:533px;"><span class="bk">Benchmark:</span> 19,587 <span class="dn">(-14.82%)</span></div>
<div class="abs also" style="left:9px;top:553px;">Also see the <a>Content by Title</a> report for additional analysis of this metric.</div>

<div class="abs big" style="left:9px;top:754px;">1.95</div>
<div class="abs met" style="left:81.8px;top:766px;letter-spacing:-0.12px;">Pages/Visit</div>
<div class="abs bm" style="left:8.6px;top:792px;"><span class="bk">Benchmark:</span> 3.70 <span class="dn">(-47.38%)</span></div>
<div class="abs also" style="left:9px;top:812px;">Also see the <a>Depth of Visit</a> report for additional analysis of this metric.</div>
</body></html>
